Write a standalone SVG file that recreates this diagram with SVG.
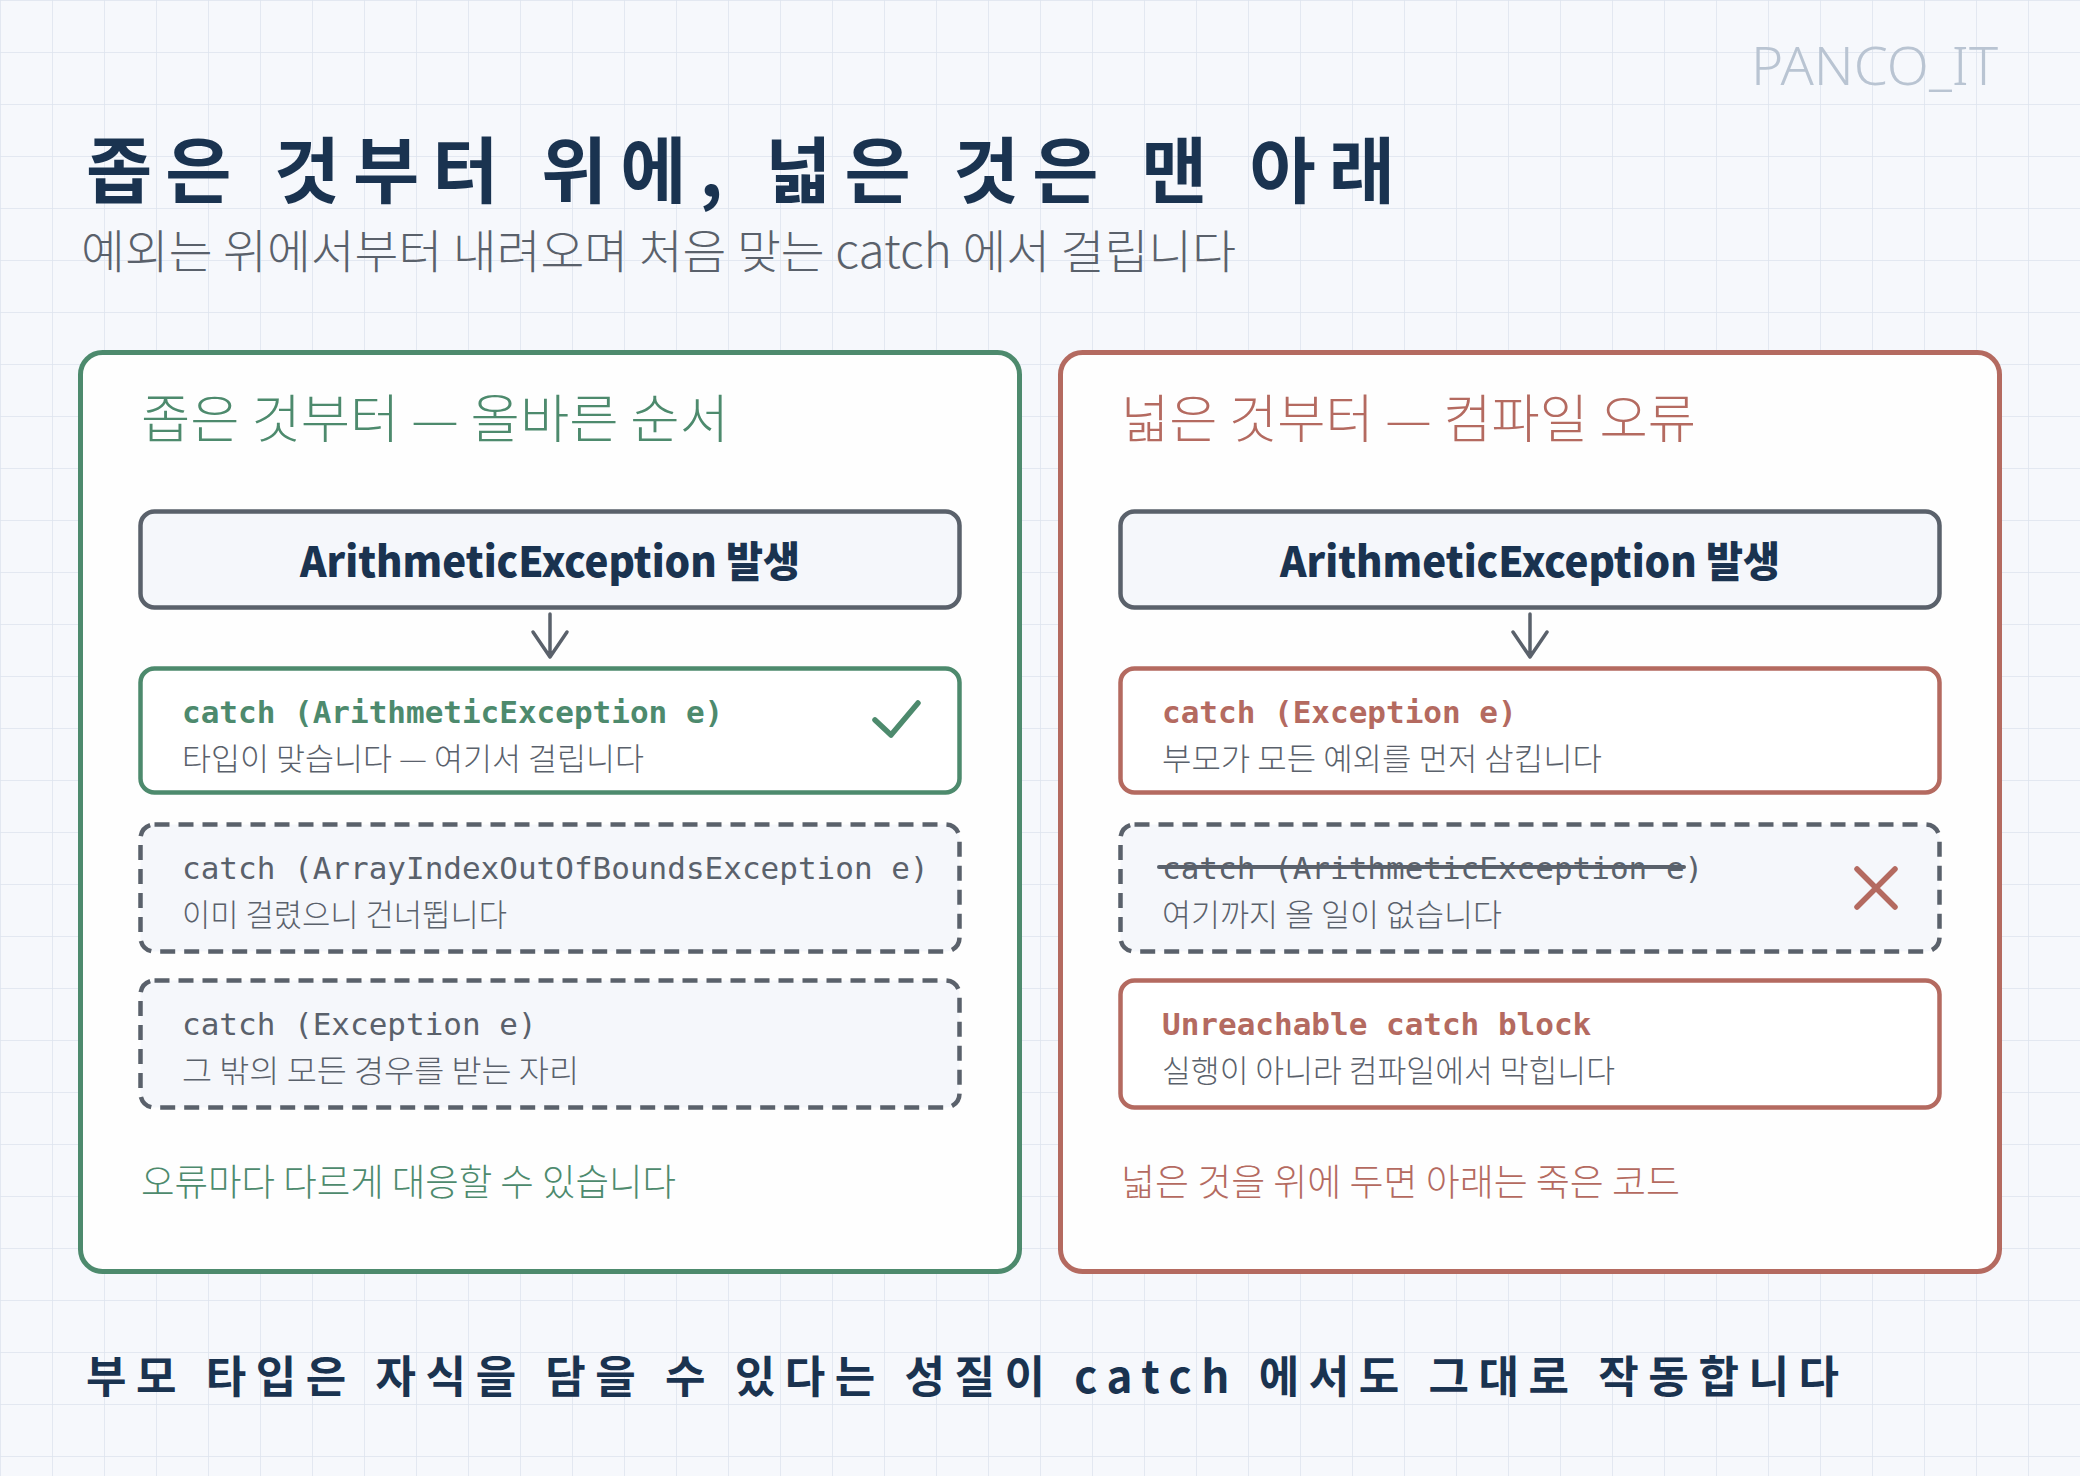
<svg xmlns="http://www.w3.org/2000/svg" width="2080" height="1476" viewBox="0 0 2080 1476">
  <defs>
    <pattern id="grid" width="52" height="52" patternUnits="userSpaceOnUse">
      <path d="M52 0 L0 0 L0 52" fill="none" stroke="#dde4ee" stroke-width="1.5"/>
    </pattern>
    <style>
      .kr { font-family: "Noto Sans CJK KR", "Noto Sans", sans-serif; }
      .mono { font-family: "DejaVu Sans Mono", "Liberation Mono", monospace; font-size: 31px; }
      .hand { font-family: "Noto Sans CJK KR", sans-serif; font-weight: 700; fill: #1a3350; }
      .panel { fill: #fefefe; stroke-width: 5; }
      .box { stroke-width: 4.5; }
      .dash { fill: #f5f7fb; stroke: #5a616b; stroke-width: 4.5; stroke-dasharray: 15 9; }
      .evt { fill: #f5f7fb; stroke: #5a616b; stroke-width: 4.5; }
      .evttext { font-family: "Noto Sans CJK KR", sans-serif; font-weight: 900; font-size: 42px; fill: #1a3350; }
      .sub { font-size: 31px; fill: #5a616b; font-weight: 300; }
      .green { fill: #4d8a6d; }
      .red { fill: #b46a60; }
      .ptitle { font-size: 52px; font-weight: 300; }
      .foot { font-size: 37px; font-weight: 300; }
      .arrow { fill: none; stroke: #5a616b; stroke-width: 3.5; stroke-linecap: round; stroke-linejoin: round; }
    </style>
  </defs>
  <rect width="2080" height="1476" fill="#f6f8fc"/>
  <rect width="2080" height="1476" fill="url(#grid)"/>

  <text x="1751" y="85" font-family="'Noto Sans', sans-serif" font-weight="300" font-size="54" fill="#b9c4d2" textLength="247" lengthAdjust="spacingAndGlyphs">PANCO_IT</text>

  <g id="title">
    <text class="hand" x="86" y="197" font-size="72" textLength="1309" lengthAdjust="spacing">좁은 것부터 위에, 넓은 것은 맨 아래</text>
    <text class="kr" x="81" y="268" font-size="46" font-weight="300" fill="#5a616b" textLength="1155" lengthAdjust="spacingAndGlyphs">예외는 위에서부터 내려오며 처음 맞는 catch 에서 걸립니다</text>
  </g>

  <!-- Left panel -->
  <g id="panel-left">
    <rect class="panel" x="80.5" y="352.5" width="939" height="919" rx="22" stroke="#4d8a6d"/>
    <text class="kr ptitle green" x="141" y="438" textLength="588" lengthAdjust="spacingAndGlyphs">좁은 것부터 — 올바른 순서</text>
  </g>
  <g id="event-left">
    <rect class="evt" x="140.5" y="511.5" width="819" height="96" rx="14"/>
    <text class="evttext" x="550" y="577" text-anchor="middle" textLength="500" lengthAdjust="spacingAndGlyphs">ArithmeticException 발생</text>
  </g>
  <g id="catch-left-1">
    <rect class="box" x="140.5" y="668.5" width="819" height="124" rx="14" fill="#ffffff" stroke="#4d8a6d"/>
    <text class="mono green" x="182" y="723" font-weight="700">catch (ArithmeticException e)</text>
    <text class="kr sub" x="182" y="770" textLength="462" lengthAdjust="spacingAndGlyphs">타입이 맞습니다 — 여기서 걸립니다</text>
    <path d="M875 720 L891 735 L918 703" fill="none" stroke="#4d8a6d" stroke-width="5.5" stroke-linecap="round" stroke-linejoin="round"/>
  </g>
  <g id="catch-left-2">
    <rect class="dash" x="140.5" y="824.5" width="819" height="127" rx="14"/>
    <text class="mono" x="182" y="879" fill="#5a616b">catch (ArrayIndexOutOfBoundsException e)</text>
    <text class="kr sub" x="182" y="926" textLength="325" lengthAdjust="spacingAndGlyphs">이미 걸렸으니 건너뜁니다</text>
  </g>
  <g id="catch-left-3">
    <rect class="dash" x="140.5" y="980.5" width="819" height="127" rx="14"/>
    <text class="mono" x="182" y="1035" fill="#5a616b">catch (Exception e)</text>
    <text class="kr sub" x="182" y="1082" textLength="397" lengthAdjust="spacingAndGlyphs">그 밖의 모든 경우를 받는 자리</text>
  </g>
  <g id="footer-left">
    <text class="kr foot green" x="141" y="1196" textLength="535" lengthAdjust="spacingAndGlyphs">오류마다 다르게 대응할 수 있습니다</text>
  </g>

  <!-- Right panel -->
  <g id="panel-right">
    <rect class="panel" x="1060.5" y="352.5" width="939" height="919" rx="22" stroke="#b46a60"/>
    <text class="kr ptitle red" x="1121" y="438" textLength="575" lengthAdjust="spacingAndGlyphs">넓은 것부터 — 컴파일 오류</text>
  </g>
  <g id="event-right">
    <rect class="evt" x="1120.5" y="511.5" width="819" height="96" rx="14"/>
    <text class="evttext" x="1530" y="577" text-anchor="middle" textLength="500" lengthAdjust="spacingAndGlyphs">ArithmeticException 발생</text>
  </g>
  <g id="catch-right-1">
    <rect class="box" x="1120.5" y="668.5" width="819" height="124" rx="14" fill="#ffffff" stroke="#b46a60"/>
    <text class="mono red" x="1162" y="723" font-weight="700">catch (Exception e)</text>
    <text class="kr sub" x="1162" y="770" textLength="440" lengthAdjust="spacingAndGlyphs">부모가 모든 예외를 먼저 삼킵니다</text>
  </g>
  <g id="catch-right-2">
    <rect class="dash" x="1120.5" y="824.5" width="819" height="127" rx="14"/>
    <text class="mono" x="1162" y="879" fill="#5a616b">catch (ArithmeticException e)</text>
    <line x1="1159" y1="867" x2="1684" y2="867" stroke="#5a616b" stroke-width="4" stroke-linecap="round"/>
    <text class="kr sub" x="1162" y="926" textLength="340" lengthAdjust="spacingAndGlyphs">여기까지 올 일이 없습니다</text>
    <path d="M1857 869 L1895 907 M1895 869 L1857 907" fill="none" stroke="#b46a60" stroke-width="5.5" stroke-linecap="round"/>
  </g>
  <g id="catch-right-3">
    <rect class="box" x="1120.5" y="980.5" width="819" height="127" rx="14" fill="#ffffff" stroke="#b46a60"/>
    <text class="mono red" x="1162" y="1035" font-weight="700">Unreachable catch block</text>
    <text class="kr sub" x="1162" y="1082" textLength="453" lengthAdjust="spacingAndGlyphs">실행이 아니라 컴파일에서 막힙니다</text>
  </g>
  <g id="footer-right">
    <text class="kr foot red" x="1121" y="1196" textLength="559" lengthAdjust="spacingAndGlyphs">넓은 것을 위에 두면 아래는 죽은 코드</text>
  </g>

  <g id="connectors">
    <path class="arrow" d="M550 614 L550 657 M533 632 L550 657 L567 632"/>
    <path class="arrow" d="M1530 614 L1530 657 M1513 632 L1530 657 L1547 632"/>
  </g>

  <g id="bottom-note">
    <text class="hand" x="86" y="1393" font-size="44" textLength="1753" lengthAdjust="spacing">부모 타입은 자식을 담을 수 있다는 성질이 catch 에서도 그대로 작동합니다</text>
  </g>
</svg>
